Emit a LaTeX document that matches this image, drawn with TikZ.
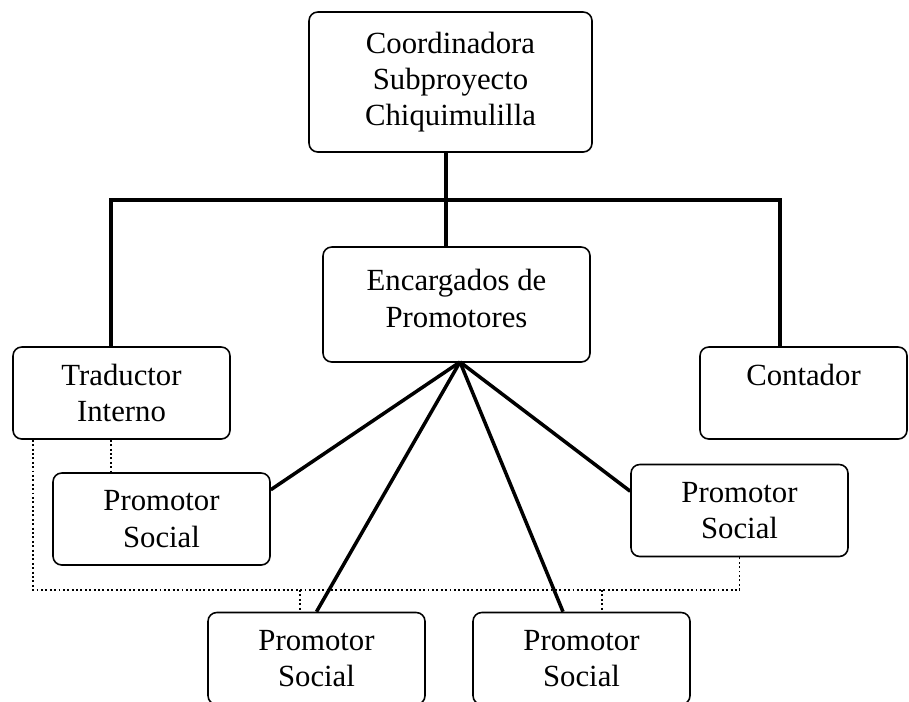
\documentclass[tikz,border=0pt]{standalone}
\usepackage{fontspec}
\setmainfont{Liberation Serif}
\begin{document}
\begin{tikzpicture}
		[unit/.style={rectangle,rounded corners=5pt,draw=black,line width=0.9pt,
align=center,inner sep=0pt,font=\fontsize{17.5pt}{20.6pt}\selectfont},
		unit1/.style={unit,minimum width=5.66cm,minimum height=2.8cm},
		unit2/.style={unit,minimum width=5.34cm,minimum height=2.3cm},
		unit3/.style={unit,minimum width=4.34cm,minimum height=1.84cm},
		barstyle/.style={-,line width=2.4pt},
		edgestyle/.style={-,line width=2pt},
		dotstyle/.style={-,line width=1.1pt,dash pattern=on 1.1pt off 1.4pt}]
		\useasboundingbox (0,0) rectangle (18.18,-14.02);
		\node at (9.01, -1.64) (coord) [unit1] {Coordinadora\\Subproyecto\\Chiquimulilla};
		\node at (9.13, -6.09) (enc) [unit2] {Encargados de\\Promotores\\[-13.5pt]\mbox{}};
		\node at (2.43, -7.86) (trad) [unit3] {Traductor\\Interno};
		\node at (16.07, -7.86) (cont) [unit3,minimum width=4.14cm] {Contador\\\mbox{}};
		\node at (3.23, -10.38) (prom1) [unit3] {Promotor\\Social};
		\node at (6.33, -13.17) (prom2) [unit3] {Promotor\\Social};
		\node at (11.63, -13.17) (prom3) [unit3] {Promotor\\Social};
		\node at (14.79, -10.21) (prom4) [unit3] {Promotor\\Social};
		\coordinate (barL) at (2.22, -4.0);
		\coordinate (hub) at (8.92, -4.0);
		\coordinate (barR) at (15.6, -4.0);
		\coordinate (fan) at (9.2, -7.24);
		\coordinate (dotL) at (0.66, -11.8);
		\coordinate (dropA) at (6.0, -11.8);
		\coordinate (dropB) at (12.04, -11.8);
		\draw [barstyle] (coord.south -| hub) -- (enc.north -| hub);
		\draw [barstyle] (trad.north -| barL) -- (barL) -- (barR) -- (cont.north -| barR);
		\draw [edgestyle] (fan) -- (prom1.15);
		\draw [edgestyle] (fan) -- (prom2.north);
		\draw [edgestyle] (fan) -- ([xshift=-0.37cm]prom3.north);
		\draw [edgestyle] (fan) -- (prom4.170);
		\draw [dotstyle] (trad.south -| dotL) -- (dotL) -| (prom4.south);
		\draw [dotstyle] (trad.south -| barL) -- (prom1.north -| barL);
		\draw [dotstyle] (dropA) -- (dropA |- prom2.north);
		\draw [dotstyle] (dropB) -- (dropB |- prom3.north);
	\end{tikzpicture}
\end{document}
